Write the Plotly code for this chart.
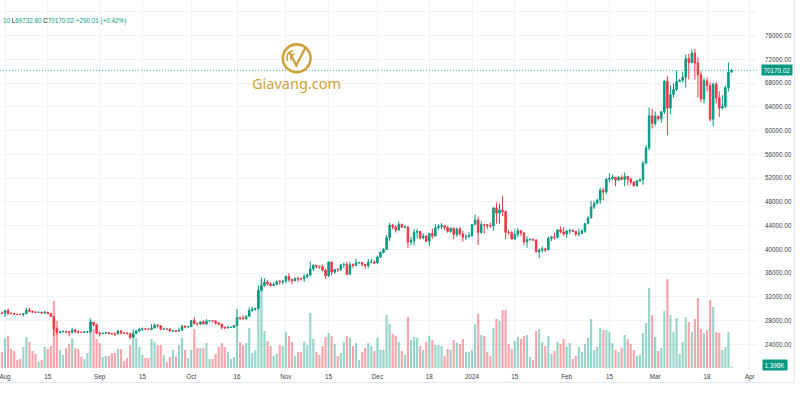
import pandas as pd
import plotly.graph_objects as go

# ---------------- data ----------------
start_date = "2023-07-30"
end_date = "2024-03-26"
dates = pd.date_range(start_date, end_date, freq="D")

first_open = 29350.0
closes = [
    29280, 29230,
    29700, 29180, 29175, 29070, 29050, 29040, 29180, 29770, 29580, 29430, 29400, 29410, 29280, 29410, 29170, 28700,
    26620, 26050, 26100, 26190, 26120, 26040, 26430, 26160, 26050, 26010, 26090, 26100, 27720, 27300, 25930,
    25800, 25870, 25970, 25820, 25790, 25750, 26240, 25900, 25895, 25840, 25160, 25840, 26230, 26530, 26610, 26570,
    26530, 26760, 27210, 27130, 26570, 26580, 26575, 26250, 26300, 26220, 26370, 27030, 26910, 26970,
    27990, 27500, 27430, 27790, 27410, 27950, 27970, 27940, 27590, 27390, 26870, 26760, 26860, 26865, 27160, 28520,
    28420, 28330, 28720, 29680, 29910, 29990, 33090, 33900, 34500, 34160, 33910, 34090, 34540, 34500, 34670,
    35440, 34940, 34730, 35080, 35050, 35040, 35420, 35650, 36690, 37310, 37130, 37070, 36500, 35540, 37860, 36160,
    36590, 36580, 37390, 37480, 35810, 37430, 37290, 37720, 37790, 37480, 37250, 37830, 37860, 37710,
    38690, 39470, 39980, 41980, 44080, 43770, 43290, 44170, 43730, 43790, 41240, 41450, 42890, 43020, 41930, 42240,
    41360, 42660, 42260, 43650, 43870, 43990, 43720, 43010, 43580, 42520, 43440, 42580, 42070, 42140, 42280,
    44180, 44960, 42850, 44180, 44160, 43970, 43930, 46970, 46110, 46630, 46370, 42850, 42840, 41730, 42510, 43150,
    42740, 41260, 41620, 41660, 41580, 39570, 39890, 40080, 39930, 41820, 42120, 42040, 43300, 42940, 42580,
    43080, 43180, 43010, 42580, 42660, 43080, 44340, 45290, 47130, 47770, 48290, 49960, 49700, 51800, 51940,
    52160, 51660, 52120, 51780, 52280, 51830, 51320, 50730, 51570, 51730, 54520, 57090, 62500, 61200,
    62440, 62030, 63170, 68330, 63800, 66110, 66930, 68300, 68500, 69020, 72130, 71480, 73080, 71400, 69400,
    65320, 68390, 67620, 61930, 67840, 65500, 63800, 64090, 67230, 69880.01, 70170.02,
]
highs = [
    29530, 29520,
    29740, 30050, 29400, 29310, 29110, 29170, 29240, 30180, 30130, 29700, 29540, 29460, 29460, 29670, 29470, 29230,
    28780, 26800, 26250, 26290, 26250, 26130, 26800, 26550, 26300, 26100, 26170, 26250, 28140, 27760, 27490,
    26130, 25980, 26120, 26070, 25860, 26030, 26430, 26430, 25950, 25980, 25880, 26540, 26400, 26800, 26840, 26660,
    26620, 27420, 27480, 27380, 27160, 26740, 26630, 26720, 26420, 26400, 26820, 27300, 27230, 27090,
    28060, 28590, 27670, 27830, 28120, 28250, 28010, 28100, 27990, 27730, 27480, 26960, 27110, 26950, 27290, 30000,
    28610, 28900, 28910, 30200, 30350, 30220, 33950, 35200, 35130, 34800, 34480, 34460, 34740, 34860, 34720,
    35580, 35980, 34950, 35250, 35380, 35270, 35890, 35980, 37970, 37520, 37410, 37230, 37440, 36760, 37960, 37930,
    36760, 36860, 37520, 37740, 37880, 37880, 37630, 38440, 37890, 37840, 37580, 38390, 38410, 38150,
    38950, 39690, 40190, 42400, 44480, 44300, 44040, 44700, 44380, 44040, 43790, 42100, 43430, 43420, 43090, 42720,
    42420, 42750, 43480, 44280, 44240, 44400, 44020, 43950, 43650, 43600, 43680, 43790, 43120, 42610, 42890,
    44190, 45880, 45500, 44730, 44340, 44200, 44500, 47190, 47900, 47700, 48970, 46520, 43260, 43080, 43400, 43580,
    43200, 42930, 42200, 41870, 41850, 41680, 40130, 40500, 40280, 42200, 42200, 42840, 43310, 43880, 43740,
    43290, 43480, 43380, 43120, 43500, 43420, 44380, 45600, 48190, 48170, 48590, 50370, 50370, 52000, 52820,
    52580, 52200, 52380, 52490, 52950, 52360, 52030, 51540, 51680, 51960, 54900, 57560, 63900, 63680,
    63230, 62500, 63250, 68500, 69200, 67640, 67950, 70140, 68670, 69920, 72800, 72950, 73650, 73800, 72400,
    70000, 68900, 68930, 68150, 68100, 68200, 66650, 65980, 67600, 71500, 70400,
]
lows = [
    29120, 29110,
    28600, 28950, 29100, 28960, 28990, 28990, 28700, 29120, 29380, 29350, 29330, 29360, 29250, 29080, 29100, 28680,
    25400, 25650, 25800, 26000, 25800, 25360, 25800, 25870, 25780, 25970, 25960, 25860, 25920, 27030, 25660,
    25330, 25720, 25810, 25600, 25570, 25380, 25630, 25650, 25800, 25580, 24900, 25130, 25770, 26130, 26220, 26470,
    26420, 26370, 26670, 26830, 26360, 26470, 26500, 26130, 25990, 26090, 26110, 26340, 26680, 26880,
    26950, 27330, 27160, 27230, 27370, 27340, 27850, 27690, 27290, 27300, 26550, 26560, 26700, 26810, 26840, 27110,
    28110, 28170, 28180, 28620, 29480, 29680, 29880, 32880, 33700, 33880, 33700, 33900, 34050, 34080, 34080,
    34300, 34500, 34100, 34550, 34530, 34740, 34530, 35120, 35550, 36350, 36760, 36720, 36340, 35040, 35340, 35620,
    35900, 36210, 36380, 36850, 35650, 35700, 36900, 37280, 37580, 37160, 36720, 36880, 37620, 37510,
    37620, 38650, 39290, 39980, 41420, 43340, 42820, 43080, 43600, 43560, 40220, 40680, 40640, 41830, 41670, 41680,
    41250, 40520, 41800, 42200, 43330, 43420, 43300, 42800, 42780, 41680, 42100, 42300, 41300, 41520, 41970,
    42200, 44150, 40750, 42630, 42630, 43400, 43600, 43200, 44350, 44300, 45600, 41750, 42450, 41720, 41720, 42050,
    42200, 40700, 40280, 41450, 41450, 39450, 38550, 39480, 39520, 39830, 41400, 41620, 41800, 42680, 42300,
    41880, 42590, 42880, 42250, 42200, 42600, 42780, 44330, 45250, 46800, 47550, 47690, 48300, 49350, 51300,
    51620, 50640, 51560, 51710, 50620, 50800, 50900, 50520, 50600, 51300, 50900, 54450, 56700, 60360,
    60800, 61660, 61330, 62800, 59200, 62800, 65600, 66670, 68180, 68100, 67250, 68630, 71340, 68600, 65600,
    64800, 64550, 66600, 61550, 60780, 64560, 62300, 63600, 63800, 66600, 69732.80,
]
volumes_k = [
    12, 16,
    30, 32, 19, 17, 8, 9, 21, 31, 26, 17, 14, 6, 8, 21, 19, 22, 67, 47, 18, 13, 20, 24, 30, 20, 19, 11, 9, 15, 50, 39, 29,
    25, 11, 12, 12, 15, 15, 19, 19, 7, 10, 23, 35, 30, 21, 13, 10, 10, 29, 26, 23, 23, 13, 6, 11, 18, 11, 23, 30, 18, 10,
    18, 39, 20, 20, 20, 25, 9, 9, 14, 21, 25, 21, 16, 9, 11, 43, 26, 23, 25, 40, 15, 18, 78, 88, 37, 27, 22, 12, 14, 23, 22,
    36, 32, 26, 12, 16, 16, 26, 23, 55, 29, 16, 13, 22, 31, 35, 32, 24, 12, 15, 26, 32, 30, 22, 25, 8, 16, 20, 25, 22, 17,
    30, 18, 18, 53, 44, 34, 32, 26, 17, 13, 51, 28, 31, 30, 22, 18, 26, 32, 28, 23, 23, 22, 12, 19, 18, 28, 25, 24, 29, 16, 16,
    18, 44, 54, 33, 32, 16, 12, 40, 49, 47, 58, 58, 24, 19, 27, 31, 29, 32, 33, 11, 8, 37, 39, 26, 22, 32, 14, 17, 26, 24, 29,
    21, 25, 9, 12, 21, 16, 24, 30, 49, 18, 21, 40, 38, 38, 36, 25, 18, 16, 20, 33, 29, 24, 18, 12, 13, 35, 45, 80, 53,
    31, 17, 20, 57, 89, 53, 36, 50, 14, 26, 51, 46, 36, 49, 70, 39, 35, 38, 68, 61, 36, 35, 18, 21, 36, 1.398,
]
opens = [first_open] + closes[:-1]

tick_dates = ["2023-08-01", "2023-08-15", "2023-09-01", "2023-09-15", "2023-10-01", "2023-10-16",
              "2023-11-01", "2023-11-15", "2023-12-01", "2023-12-18", "2024-01-01", "2024-01-15",
              "2024-02-01", "2024-02-15", "2024-03-01", "2024-03-18", "2024-04-01"]
tick_labels = ["Aug", "15", "Sep", "15", "Oct", "16", "Nov", "15", "Dec", "18", "2024", "15",
               "Feb", "15", "Mar", "18", "Apr"]
price_ticks = [24000, 28000, 32000, 36000, 40000, 44000, 48000, 52000, 56000, 60000,
               64000, 68000, 72000, 76000, 80000]
price_tick_labels = [f"{v:.2f}" for v in price_ticks[:-1]] + [""]

header_text = ("<span style='color:#089981'>10</span> <span style='color:#131722'>L</span>"
               "<span style='color:#089981'>69732.80</span> <span style='color:#131722'>C</span>"
               "<span style='color:#089981'>70170.02 +290.01 (+0.42%)</span>")
last_price = closes[-1]
last_volume_label = "1.398K"

# ---------------- style ----------------
UP = "#089981"
DOWN = "#F23645"
UP_VOL = "rgba(8,153,129,0.42)"
DOWN_VOL = "rgba(242,54,69,0.45)"
GOLD = "#cfa13c"
W, H = 800, 400
ML, MR, MT, MB = 0, 43, 0, 30
PW, PH = W - ML - MR, H - MT - MB


def px(x):
    return x / PW


def py(y):
    return 1 - y / PH


vol_colors = [UP_VOL if c >= o else DOWN_VOL for o, c in zip(opens, closes)]

fig = go.Figure()
fig.add_trace(go.Bar(x=dates, y=volumes_k, marker=dict(color=vol_colors, line=dict(width=0)),
                     yaxis="y", hoverinfo="skip", showlegend=False))
fig.add_trace(go.Candlestick(x=dates, open=opens, high=highs, low=lows, close=closes,
                             yaxis="y2", showlegend=False,
                             increasing=dict(line=dict(color=UP, width=1), fillcolor=UP),
                             decreasing=dict(line=dict(color=DOWN, width=1), fillcolor=DOWN)))

axis_font = dict(family="Liberation Sans, Arial, sans-serif", size=6.3, color="#3a3d47")

shapes = [
    # last price dotted line
    dict(type="line", xref="paper", x0=0, x1=1, yref="y2", y0=last_price, y1=last_price,
         line=dict(color="rgba(8,153,129,0.75)", width=1, dash="1px,2px")),
    # bottom border and right border
    dict(type="line", xref="paper", x0=0, x1=px(795), yref="paper", y0=py(382.5), y1=py(382.5),
         line=dict(color="#e3e6ee", width=1)),
    dict(type="line", xref="paper", x0=px(794.5), x1=px(794.5), yref="paper", y0=1, y1=py(382.5),
         line=dict(color="#e3e6ee", width=1)),
    # logo ring
    dict(type="circle", xref="paper", yref="paper",
         x0=px(282.8), x1=px(310.6), y0=py(72.2), y1=py(44.4),
         line=dict(color=GOLD, width=2.6)),
    # logo check mark
    dict(type="path", xref="paper", yref="paper",
         path=f"M {px(289.5)} {py(52.5)} L {px(296.3)} {py(65.5)} L {px(305.5)} {py(47.5)}",
         line=dict(color=GOLD, width=2.4)),
    # logo signal arcs
    dict(type="path", xref="paper", yref="paper",
         path=f"M {px(293)} {py(50.5)} Q {px(285)} {py(52.5)} {px(287.5)} {py(61)}",
         line=dict(color=GOLD, width=1.6)),
    dict(type="path", xref="paper", yref="paper",
         path=f"M {px(294.5)} {py(54)} Q {px(289.5)} {py(55.5)} {px(291)} {py(60.5)}",
         line=dict(color=GOLD, width=1.4)),
]

annotations = [
    dict(xref="paper", yref="paper", x=px(1), y=py(21), xanchor="left", yanchor="middle",
         text=header_text, showarrow=False,
         font=dict(family="Liberation Sans, Arial, sans-serif", size=6.3)),
    dict(xref="paper", yref="paper", x=px(296.5), y=py(83), xanchor="center", yanchor="middle",
         text="Giavang.com", showarrow=False,
         font=dict(family="Noto Sans, sans-serif", size=14.5, color=GOLD)),
    dict(xref="paper", yref="y2", x=px(777.5), y=last_price, xanchor="center", yanchor="middle",
         text=f"{last_price:.2f}", showarrow=False, bgcolor=UP, borderpad=1.5,
         font=dict(family="Liberation Sans, Arial, sans-serif", size=6.3, color="white")),
    dict(xref="paper", yref="paper", x=px(774.5), y=py(364.5), xanchor="center", yanchor="middle",
         text=last_volume_label, showarrow=False, bgcolor=UP, borderpad=1.5,
         font=dict(family="Liberation Sans, Arial, sans-serif", size=6.3, color="white")),
]

fig.update_layout(
    width=W, height=H,
    margin=dict(l=ML, r=MR, t=MT, b=MB, autoexpand=False),
    paper_bgcolor="white", plot_bgcolor="white",
    showlegend=False, bargap=0.3,
    xaxis=dict(type="date", range=["2023-07-30 08:30", "2024-04-03 08:30"],
               rangeslider=dict(visible=False), automargin=False,
               tickvals=tick_dates, ticktext=tick_labels, tickfont=axis_font,
               ticklabeloverflow="allow",
               showgrid=True, gridcolor="#f2f3f6", gridwidth=1, ticks="", ticklabelstandoff=2,
               showline=False, zeroline=False, fixedrange=True),
    yaxis=dict(range=[-2, 368], visible=False, showgrid=False, fixedrange=True, automargin=False),
    yaxis2=dict(overlaying="y", side="right", range=[19673, 82015], automargin=False,
                tickvals=price_ticks, ticktext=price_tick_labels, tickfont=axis_font,
                ticklabeloverflow="allow",
                showgrid=True, gridcolor="#f2f3f6", gridwidth=1, ticks="", ticklabelstandoff=7,
                showline=False, zeroline=False, fixedrange=True),
    shapes=shapes,
    annotations=annotations,
)

fig.write_html("out.html", config={"displayModeBar": False, "staticPlot": True},
               post_script="document.body.style.margin='0px';")
